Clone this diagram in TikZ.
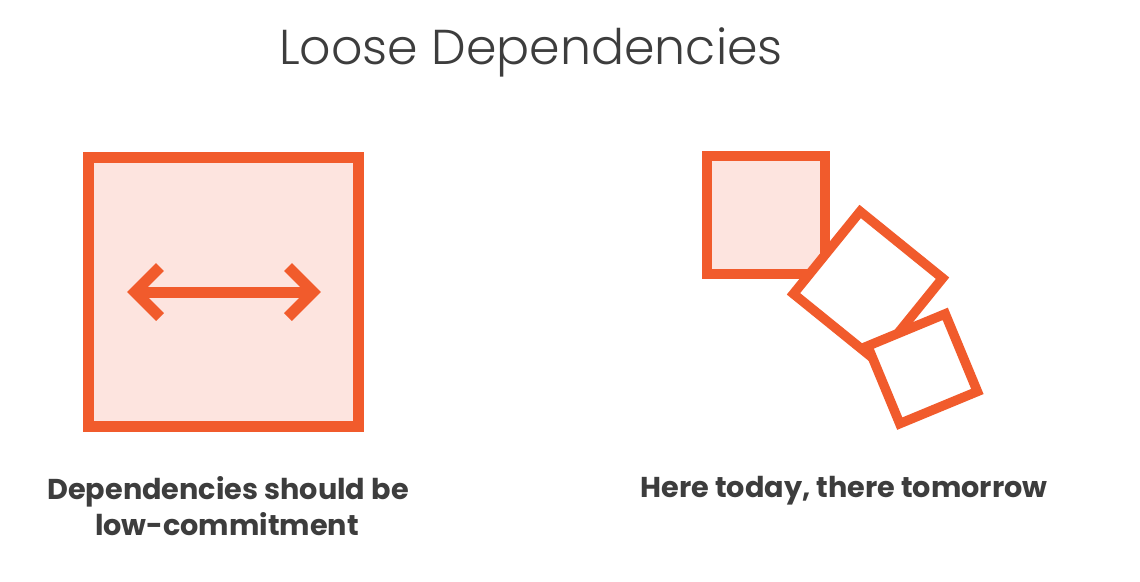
\documentclass[tikz,border=0pt]{standalone}
\usepackage{fontspec}
\usetikzlibrary{calc}
\setmainfont{Poppins}
\newfontfamily\lightfont{Poppins Light}
\newfontfamily\capfont{Poppins Bold}
\definecolor{accent}{HTML}{F15B2C}
\definecolor{softfill}{HTML}{FDE4DF}
\definecolor{ink}{HTML}{3D3D3D}
\begin{document}
\begin{tikzpicture}[x=1pt,y=-1pt,
  title/.style={anchor=base, text=ink, inner sep=0,
    font=\lightfont\fontsize{49}{58}\selectfont},
  caption/.style={anchor=base, text=ink, inner sep=0,
    font=\capfont\fontsize{28.7}{34}\selectfont},
  tile/.style={draw=accent, line width=9.5pt, inner sep=0,
    minimum size=#1, line join=miter},
  bigtile/.style={draw=accent, fill=softfill, line width=11pt, inner sep=0,
    minimum width=270pt, minimum height=269pt},
  arrowpart/.style={draw=accent, line width=11pt, line join=miter},
]
\useasboundingbox (0,0) rectangle (1140,581);

% heading
\node[title] (heading) at (531,64) {Loose Dependencies};

% left panel: framed box with a two-way arrow
\node[bigtile] (frame) at (223.5,291.75) {};
\coordinate (tipL) at (135,292);
\coordinate (tipR) at (313,292);
\draw[arrowpart] (tipL) -- (tipR);
\draw[arrowpart] ($(tipL)+(25,-25)$) -- (tipL) -- ($(tipL)+(25,25)$);
\draw[arrowpart] ($(tipR)+(-25,-25)$) -- (tipR) -- ($(tipR)+(-25,25)$);

\node[caption] (capL1) at (228,499) {Dependencies should be};
\node[caption] (capL2) at (227,535) {low-commitment};

% right panel: tumbling boxes
\node[tile=118pt, fill=softfill] (boxA) at (765.75,215) {};
\node[tile=106pt, fill=white, rotate=-39] (boxB) at (868,286) {};
\node[tile=84pt, fill=white, rotate=22.5] (boxC) at (922.5,368.75) {};

\node[caption] (capR) at (844,497) {Here today, there tomorrow};
\end{tikzpicture}
\end{document}
